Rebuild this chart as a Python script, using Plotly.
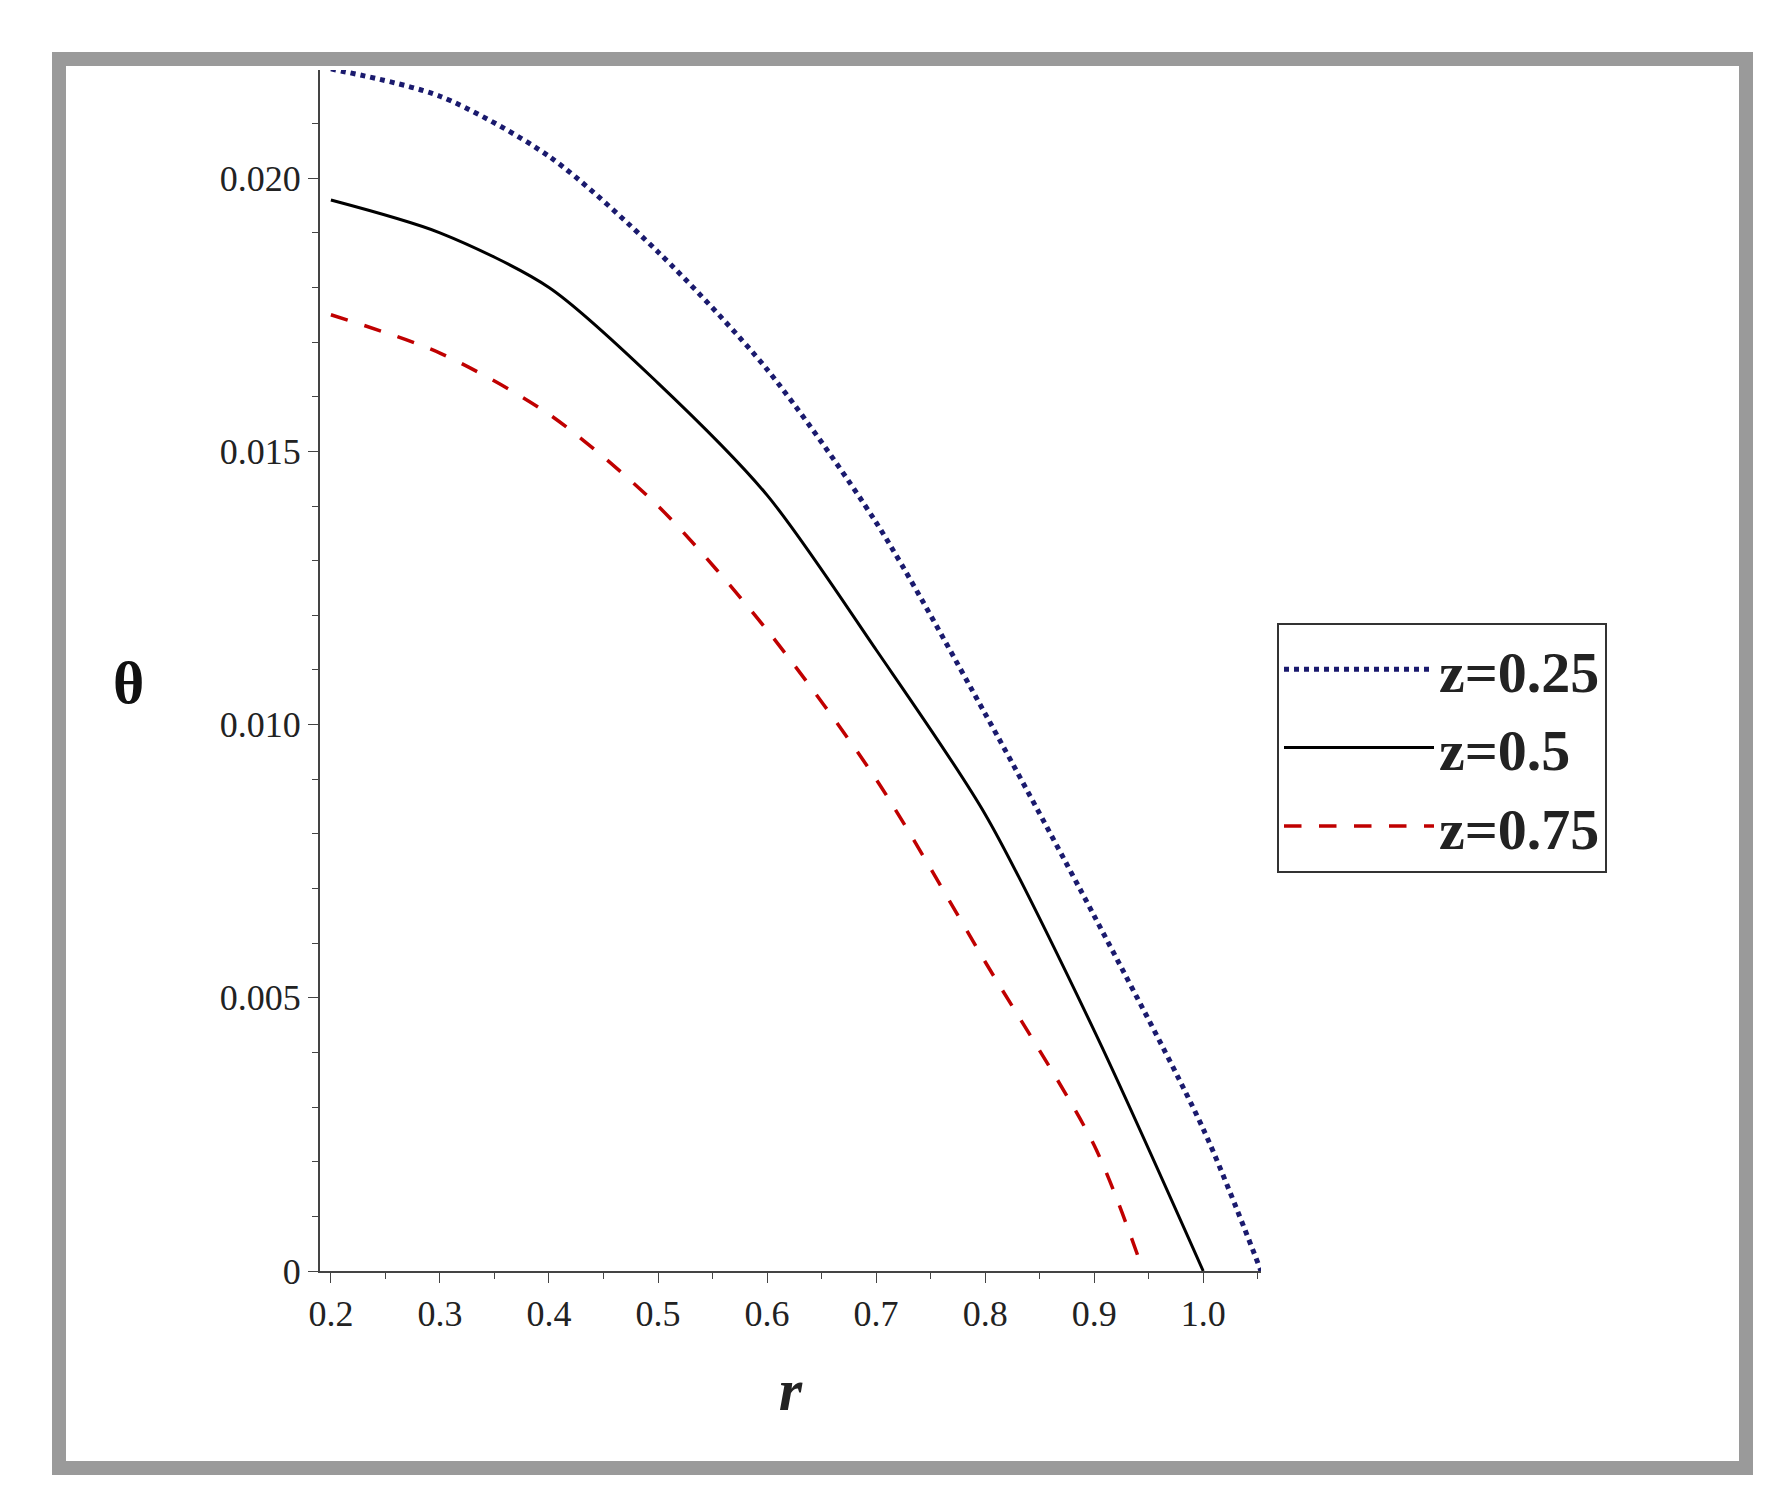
import plotly.graph_objects as go

r1 = [0.2, 0.3, 0.4, 0.5, 0.6, 0.7, 0.8, 0.9, 1.0, 1.053]
th1 = [0.0220, 0.0215, 0.0204, 0.01865, 0.0165, 0.0137, 0.0102, 0.0065, 0.0026, 0.0]
r2 = [0.2, 0.3, 0.4, 0.5, 0.6, 0.7, 0.8, 0.9, 1.0]
th2 = [0.0196, 0.0190, 0.0180, 0.01625, 0.0142, 0.01137, 0.00836, 0.0044, 0.0]
r3 = [0.2, 0.3, 0.4, 0.5, 0.6, 0.7, 0.8, 0.9, 0.945]
th3 = [0.0175, 0.0168, 0.01568, 0.0140, 0.01173, 0.0090, 0.00566, 0.0023, 0.0]
names = ["<b>z=0.25</b>", "<b>z=0.5</b>", "<b>z=0.75</b>"]

W, H = 1781, 1505
L, R, T, B = 312, 1253, 62, 1263
fig = go.Figure()
fig.add_trace(go.Scatter(x=r1, y=th1, name=names[0], mode="lines", line=dict(color="#1a1a6e", width=5, dash="dot", shape="spline", smoothing=0.8)))
fig.add_trace(go.Scatter(x=r2, y=th2, name=names[1], mode="lines", line=dict(color="black", width=3, shape="spline", smoothing=0.8)))
fig.add_trace(go.Scatter(x=r3, y=th3, name=names[2], mode="lines", line=dict(color="#c00000", width=3.5, dash="longdash", shape="spline", smoothing=0.8)))

def px(xp): return (xp - L) / (R - L)
def py(yp): return (B - yp) / (B - T)

fig.update_layout(
    width=W, height=H, paper_bgcolor="white", plot_bgcolor="white",
    margin=dict(l=L, r=W - R, t=T, b=H - B),
    font=dict(family="Liberation Serif", color="#222"),
    xaxis=dict(range=[0.19, 1.053], tickvals=[0.2,0.3,0.4,0.5,0.6,0.7,0.8,0.9,1.0],
               ticktext=["0.2","0.3","0.4","0.5","0.6","0.7","0.8","0.9","1.0"],
               ticks="outside", ticklen=10, showline=True, linecolor="#444", linewidth=2,
               showgrid=False, zeroline=False, tickfont=dict(size=36),
               minor=dict(dtick=0.05, ticks="outside", ticklen=6, tick0=0.2),
               title=dict(text="<b><i>r</i></b>", font=dict(size=60), standoff=35)),
    yaxis=dict(range=[0, 0.02198], tickvals=[0, 0.005, 0.010, 0.015, 0.020],
               ticktext=["0", "0.005", "0.010", "0.015", "0.020"],
               ticks="outside", ticklen=10, showline=True, linecolor="#444", linewidth=2,
               showgrid=False, zeroline=False, tickfont=dict(size=36),
               minor=dict(dtick=0.001, ticks="outside", ticklen=6)),
    legend=dict(x=px(1269), y=py(615), xanchor="left", yanchor="top",
                bordercolor="#333", borderwidth=2, font=dict(size=58),
                tracegroupgap=0, itemwidth=150),
    showlegend=True,
)
fig.add_annotation(text="<b>θ</b>", xref="paper", yref="paper", x=px(103), y=py(675),
                   showarrow=False, font=dict(size=60, family="Liberation Serif", color="#111"))
fig.add_shape(type="rect", xref="paper", yref="paper",
              x0=px(51), x1=px(1738), y0=py(1460), y1=py(51),
              line=dict(color="#9a9a9a", width=14), layer="below")
fig.write_html("out.html")
